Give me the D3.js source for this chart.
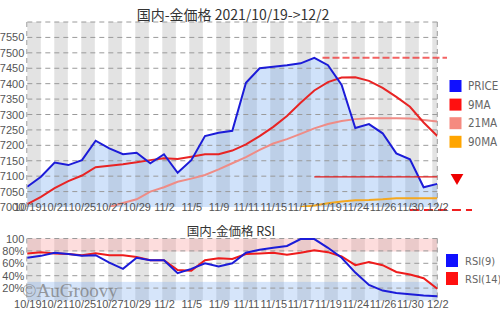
<!DOCTYPE html>
<html><head><meta charset="utf-8">
<script src="https://cdn.jsdelivr.net/npm/d3@7"></script>
<style>
body{margin:0;background:#fff;}
svg{display:block;font-family:"Liberation Sans Narrow","DejaVu Sans Condensed","Liberation Sans",sans-serif;}
</style></head><body>
<svg id="c" width="500" height="310"></svg>
<script>
const dates = ["10/19","10/20","10/21","10/22","10/25","10/26","10/27","10/28","10/29","11/1","11/2","11/4","11/5","11/8","11/9","11/10","11/11","11/12","11/15","11/16","11/17","11/18","11/19","11/22","11/24","11/25","11/26","11/29","11/30","12/1","12/2"];
const price = [7066,7098,7144,7136,7152,7215,7190,7171,7176,7142,7171,7111,7152,7230,7241,7247,7403,7450,7455,7460,7466,7484,7460,7396,7256,7269,7239,7174,7155,7064,7075];
const ma9 = [7009,7033,7061,7084,7102,7129,7134,7139,7145,7152,7158,7156,7163,7171,7171,7183,7203,7230,7260,7295,7338,7378,7405,7420,7421,7409,7386,7357,7325,7274,7230];
const ma21 = [null,null,null,null,null,null,7000,7013,7025,7050,7064,7082,7092,7104,7122,7142,7162,7185,7206,7220,7237,7255,7269,7279,7285,7288,7288,7288,7287,7282,7277];
const ma90 = [null,null,null,null,null,null,null,null,null,null,null,null,null,null,null,null,null,null,null,null,7000,7005,7012,7018,7022,7023,7025,7028,7028,7028,7028];
const rsi9 = [69,72,77,75,72,73,61,51,69,65,65,44,51,60,55,60,77,82,85,88,99,99,85,69,45,25,16,12,10,8,7];
const rsi14 = [76,78,76,75,73,76,73,73,70,65,65,49,48,65,68,67,75,76,77,74,77,81,78,71,57,62,57,46,42,36,19];
const priceTicks = [7000,7050,7100,7150,7200,7250,7300,7350,7400,7450,7500,7550];
const rsiTicks = [20,40,60,80,100];
const rsiTickLabels = ["20%","40%","60%","80%","100"];
const resistance = 7484, support = 7098, lowLevel = 6990;
const legendMain = [["PRICE","#1010ff"],["9MA","#ff1010"],["21MA","#f58a80"],["90MA","#ffa500"]];
const legendRsi = [["RSI(9)","#1010ff"],["RSI(14)","#ff1010"]];

const svg = d3.select("#c");
const L = 27.3, R = 437.3;
const x = d3.scaleLinear().domain([0, dates.length - 1]).range([L, R]);
const y = d3.scaleLinear().domain([7000, 7600]).range([207, 22]);
const yr = d3.scaleLinear().domain([0, 100]).range([300.5, 238.5]);

function stripes(top, bottom) {
  const w = 13.5;
  const n = Math.ceil((R - L) / w);
  svg.append("g").selectAll("rect").data(d3.range(0, n, 2)).join("rect")
    .attr("x", i => L + i * w).attr("y", top)
    .attr("width", i => Math.min(w, R - (L + i * w))).attr("height", bottom - top)
    .attr("fill", "#e3e3e3");
}
function grid(vals, sc) {
  svg.append("g").selectAll("line").data(vals).join("line")
    .attr("x1", L).attr("x2", R).attr("y1", d => sc(d)).attr("y2", d => sc(d))
    .attr("stroke", "#9a9a9a").attr("stroke-dasharray", "5,4");
  [L - 0.5, R].forEach(xx => svg.append("line").attr("x1", xx).attr("x2", xx)
    .attr("y1", sc.range()[1]).attr("y2", sc.range()[0])
    .attr("stroke", "#9a9a9a").attr("stroke-dasharray", "5,4"));
}

// ---------- main panel ----------
svg.append("text").attr("x", 233).attr("y", 20).attr("text-anchor", "middle")
  .attr("font-family", "'Noto Sans CJK JP',sans-serif").attr("font-size", 14).attr("fill", "#333")
  .text("国内-金価格 2021/10/19->12/2");

stripes(22, 207);
const area = d3.area().x((d, i) => x(i)).y0(y(7000)).y1(d => y(d));
svg.append("path").datum(price).attr("d", area).attr("fill", "rgba(110,165,240,0.32)");
grid(priceTicks.slice(1).concat([7600]), y);

const clipId = "mclip";
svg.append("clipPath").attr("id", clipId).append("rect").attr("x", L).attr("y", 22).attr("width", R - L).attr("height", 185);
const line = d3.line().defined(d => d != null).x((d, i) => x(i)).y(d => y(d));
const lg = svg.append("g").attr("clip-path", `url(#${clipId})`);
lg.append("path").datum(ma90).attr("d", line).attr("fill", "none").attr("stroke", "#f5a81e").attr("stroke-width", 2);
lg.append("path").datum(ma21).attr("d", line).attr("fill", "none").attr("stroke", "#ef8c86").attr("stroke-width", 2);
lg.append("path").datum(ma9).attr("d", line).attr("fill", "none").attr("stroke", "#e82424").attr("stroke-width", 2);
lg.append("path").datum(price).attr("d", line).attr("fill", "none").attr("stroke", "#1c1cd8").attr("stroke-width", 2);

// levels
svg.append("line").attr("x1", x(21)).attr("x2", R).attr("y1", y(support)).attr("y2", y(support))
  .attr("stroke", "#e01818").attr("stroke-width", 1.3);
svg.append("line").attr("x1", x(21.6)).attr("x2", 447).attr("y1", y(resistance)).attr("y2", y(resistance))
  .attr("stroke", "#f03030").attr("stroke-width", 2).attr("stroke-dasharray", "7,3").attr("opacity", 0.75);
svg.append("line").attr("x1", x(28)).attr("x2", 472).attr("y1", y(lowLevel)).attr("y2", y(lowLevel))
  .attr("stroke", "#f02020").attr("stroke-width", 2).attr("stroke-dasharray", "9,5");
svg.append("path").attr("d", d3.symbol(d3.symbolTriangle, 70)())
  .attr("transform", `translate(457,${y(support) + 1}) rotate(180)`).attr("fill", "#ee0000");

// axes
const ya = svg.append("g").attr("transform", `translate(${L - 3},0)`)
  .call(d3.axisLeft(y).tickValues(priceTicks).tickFormat(d3.format("d")).tickSize(0).tickPadding(0));
ya.select(".domain").remove();
ya.selectAll("text").attr("font-size", 11).attr("fill", "#555").attr("font-family", null);
const xa = svg.append("g").attr("transform", "translate(0,203)")
  .call(d3.axisBottom(x).tickValues(d3.range(0, dates.length, 2)).tickFormat(i => dates[i]).tickSize(0).tickPadding(0));
xa.select(".domain").remove();
xa.selectAll("text").attr("font-size", 11).attr("fill", "#555").attr("font-family", null);

// legend
legendMain.forEach(([name, col], k) => {
  const cy = 86 + k * 18.6;
  svg.append("rect").attr("x", 449.5).attr("y", cy - 6).attr("width", 12).attr("height", 12).attr("fill", col);
  svg.append("text").attr("x", 468).attr("y", cy + 4).attr("font-size", 11.5).attr("fill", "#666").text(name);
});

// ---------- RSI panel ----------
svg.append("text").attr("x", 231).attr("y", 236).attr("text-anchor", "middle")
  .attr("font-family", "'Noto Sans CJK JP',sans-serif").attr("font-size", 12.5).attr("fill", "#333")
  .text("国内-金価格 RSI");
stripes(238.5, 300.5);
svg.append("rect").attr("x", L).attr("width", R - L).attr("y", yr(100)).attr("height", yr(79) - yr(100))
  .attr("fill", "rgba(250,150,150,0.32)");
svg.append("rect").attr("x", L).attr("width", R - L).attr("y", yr(30)).attr("height", yr(0) - yr(30))
  .attr("fill", "rgba(120,170,240,0.3)");
grid(rsiTicks, yr);
const rline = d3.line().x((d, i) => x(i)).y(d => yr(d));
svg.append("path").datum(rsi14).attr("d", rline).attr("fill", "none").attr("stroke", "#ee1c1c").attr("stroke-width", 2);
svg.append("path").datum(rsi9).attr("d", rline).attr("fill", "none").attr("stroke", "#1c1cd8").attr("stroke-width", 2);

const ra = svg.append("g").attr("transform", `translate(${L - 3},0)`)
  .call(d3.axisLeft(yr).tickValues(rsiTicks).tickFormat((d, i) => rsiTickLabels[i]).tickSize(0).tickPadding(0));
ra.select(".domain").remove();
ra.selectAll("text").attr("font-size", 11).attr("fill", "#555").attr("font-family", null);
const rxa = svg.append("g").attr("transform", "translate(0,300)")
  .call(d3.axisBottom(x).tickValues(d3.range(0, dates.length, 2)).tickFormat(i => dates[i]).tickSize(0).tickPadding(0));
rxa.select(".domain").remove();
rxa.selectAll("text").attr("font-size", 11).attr("fill", "#555").attr("font-family", null);

legendRsi.forEach(([name, col], k) => {
  const cy = 260.5 + k * 18;
  svg.append("rect").attr("x", 446).attr("y", cy - 6.5).attr("width", 12).attr("height", 13).attr("fill", col);
  svg.append("text").attr("x", 465).attr("y", cy + 4).attr("font-size", 11).attr("fill", "#666").text(name);
});

svg.append("text").attr("x", 22).attr("y", 297).attr("font-family", "'Liberation Serif','DejaVu Serif',serif")
  .attr("font-size", 19).attr("fill", "#777").attr("opacity", 0.7).text("©AuGroovy");
</script>
</body></html>
